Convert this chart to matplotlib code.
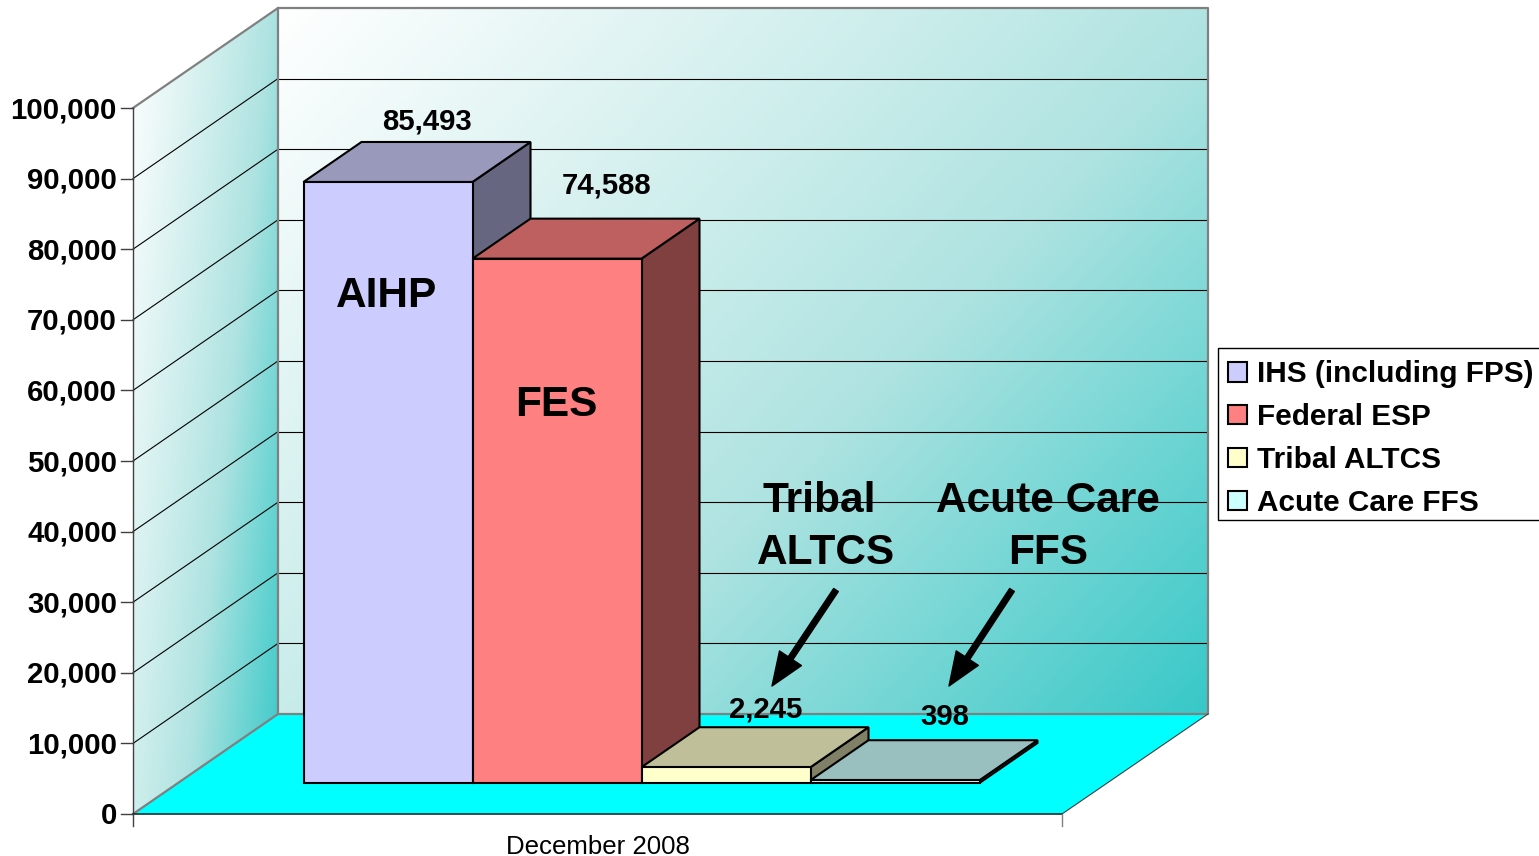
import numpy as np
import matplotlib
matplotlib.use('Agg')
import matplotlib.pyplot as plt
from matplotlib.colors import LinearSegmentedColormap
from matplotlib.patches import Polygon, Patch, Rectangle

plt.rcParams['font.family'] = ['Liberation Sans', 'DejaVu Sans']

# data
series = ['IHS (including FPS)', 'Federal ESP', 'Tribal ALTCS', 'Acute Care FFS']
values = [85493, 74588, 2245, 398]
value_labels = ['85,493', '74,588', '2,245', '398']
y_ticks = [0, 10000, 20000, 30000, 40000, 50000, 60000, 70000, 80000, 90000, 100000]
category = 'December 2008'

# colours: front, top, side
front_colors = ['#ccccff', '#ff8080', '#ffffcc', '#ccffff']
top_colors = ['#9999bb', '#bf6060', '#bfbf99', '#99bfbf']
side_colors = ['#666680', '#804040', '#808066', '#668080']

# chart geometry in image pixels
X0, X1 = 133, 1062
Y0 = 814
DX, DY = 145, -100
AXIS_K = 706 / 100000
BAR_K = 703 / 100000
BAR_LEFT, BAR_W, BAR_BASE = 303.5, 169, 783
BAR_DX, BAR_DY = 58, -40
GREY = '#808080'


def gradient(ax, poly, cmap, wx, wy):
    # fill a polygon with a linear gradient, clipped to its outline
    poly = np.array(poly)
    xa, xb = poly[:, 0].min(), poly[:, 0].max()
    ya, yb = poly[:, 1].min(), poly[:, 1].max()
    u, v = np.meshgrid(np.linspace(0, 1, 400), np.linspace(0, 1, 400))
    im = ax.imshow(wx * u + wy * v, extent=(xa, xb, yb, ya), origin='upper', cmap=cmap,
                   vmin=0, vmax=1, aspect='auto', zorder=1, interpolation='bilinear')
    im.set_clip_path(Polygon(poly, transform=ax.transData))


fig = plt.figure(figsize=(15.39, 8.56), dpi=100)
ax = fig.add_axes([0, 0, 1, 1])

wall_cmap = LinearSegmentedColormap.from_list(
    'wall', [(0, '#ffffff'), (0.42, '#c8ecea'), (0.6, '#aee3e1'), (0.8, '#72d6d4'), (1, '#38c8c8')])

top = Y0 - 100000 * AXIS_K
back_wall = [(X0 + DX, top + DY), (X1 + DX + 1, top + DY), (X1 + DX + 1, Y0 + DY), (X0 + DX, Y0 + DY)]
left_wall = [(X0, top), (X0 + DX, top + DY), (X0 + DX, Y0 + DY), (X0, Y0)]
floor = [(X0, Y0), (X0 + DX, Y0 + DY), (X1 + DX + 1, Y0 + DY), (X1, Y0)]

gradient(ax, back_wall, wall_cmap, 0.58, 0.42)
gradient(ax, left_wall, wall_cmap, 0.62, 0.38)
ax.add_patch(Polygon(floor, closed=True, fc='#00ffff', ec='none', zorder=1.5))

# gridlines on both walls
for t in y_ticks[1:-1]:
    y = Y0 - t * AXIS_K
    ax.plot([X0, X0 + DX], [y, y + DY], color='black', lw=0.8, zorder=2)
    ax.plot([X0 + DX, X1 + DX + 1], [y + DY, y + DY], color='black', lw=0.8, zorder=2)

# wall borders
ax.plot([X0, X0 + DX, X1 + DX + 1, X1 + DX + 1, X0 + DX, X0],
        [top, top + DY, top + DY, Y0 + DY, Y0 + DY, Y0], color=GREY, lw=1.6, zorder=2.2)
ax.plot([X0 + DX, X0 + DX], [top + DY, Y0 + DY], color=GREY, lw=1.6, zorder=2.2)
ax.plot([X1, X1 + DX + 1], [Y0, Y0 + DY], color='#404040', lw=0.8, zorder=2.2)

# axis lines and ticks
ax.plot([X0, X0], [top, Y0 + 12], color='#404040', lw=1, zorder=2.5)
ax.plot([X0, X1], [Y0, Y0], color='#103030', lw=1.2, zorder=2.5)
ax.plot([X1, X1], [Y0, Y0 + 12], color=GREY, lw=1, zorder=2.5)
for t in y_ticks:
    y = Y0 - t * AXIS_K
    ax.plot([X0 - 12, X0], [y, y], color='#404040', lw=1, zorder=2.5)
    ax.text(X0 - 16, y + 2, f'{t:,}', ha='right', va='center', fontsize=21.2, fontweight='bold', zorder=6)

# bars, left to right so each one overlaps the side of the previous one
for i, v in enumerate(values):
    xa = BAR_LEFT + i * BAR_W
    xb = xa + BAR_W
    yt = BAR_BASE - v * BAR_K
    ax.add_patch(Polygon([(xb, BAR_BASE), (xb + BAR_DX, BAR_BASE + BAR_DY), (xb + BAR_DX, yt + BAR_DY), (xb, yt)],
                         fc=side_colors[i], ec='black', lw=1.5, joinstyle='miter', zorder=3 + i * 0.1))
    ax.add_patch(Polygon([(xa, yt), (xa + BAR_DX, yt + BAR_DY), (xb + BAR_DX, yt + BAR_DY), (xb, yt)],
                         fc=top_colors[i], ec='black', lw=1.5, joinstyle='miter', zorder=3 + i * 0.1))
    ax.add_patch(Polygon([(xa, BAR_BASE), (xa, yt), (xb, yt), (xb, BAR_BASE)],
                         fc=front_colors[i], ec='black', lw=1.5, joinstyle='miter', zorder=3 + i * 0.1))

# value labels
label_xy = [(427, 121), (607, 185), (766, 710), (945, 717)]
for (x, y), s in zip(label_xy, value_labels):
    ax.text(x, y, s, ha='center', va='center', fontsize=21.2, fontweight='bold', zorder=6)

# hand placed chart annotations
big = dict(ha='center', va='center', fontsize=30.5, fontweight='bold', zorder=6)
ax.text(387, 296, 'AIHP', **big)
ax.text(556, 405, 'FES', **big)
ax.text(819, 501, 'Tribal', **big)
ax.text(826, 553, 'ALTCS', **big)
ax.text(1048, 501, 'Acute Care', **big)
ax.text(1048, 553, 'FFS', **big)

arrow = dict(facecolor='black', edgecolor='black', width=4, headwidth=19, headlength=24, shrink=0)
ax.annotate('', xy=(772, 686), xytext=(836, 590), arrowprops=arrow, zorder=6)
ax.annotate('', xy=(949, 686), xytext=(1012, 590), arrowprops=arrow, zorder=6)

ax.text(598, 847, category, ha='center', va='center', fontsize=18.6, zorder=6)

# legend frame runs off the right edge of the image, so draw it apart from the entries
ax.add_patch(Rectangle((1218, 348), 330, 172, fc='white', ec='black', lw=1, zorder=6.5))
handles = [Patch(fc=c, ec='black', lw=1.5) for c in front_colors]
ax.legend(handles, series, loc='upper left', bbox_to_anchor=(1218, 350), bbox_transform=ax.transData,
          prop={'size': 21.4, 'weight': 'bold'}, frameon=False,
          handlelength=0.62, handleheight=0.62, handletextpad=0.34, labelspacing=0.5,
          borderpad=0.35, borderaxespad=0).set_zorder(7)

ax.set_xlim(0, 1539)
ax.set_ylim(856, 0)
ax.axis('off')

fig.savefig('out.png', dpi=100)
